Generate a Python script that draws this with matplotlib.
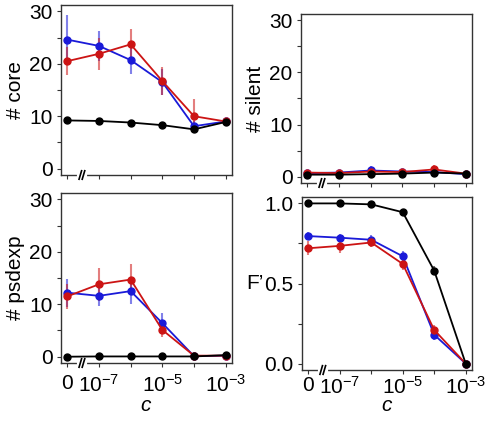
import matplotlib
matplotlib.use("Agg")
import matplotlib.pyplot as plt
import numpy as np

plt.rcParams['font.family'] = ['Liberation Sans', 'DejaVu Sans']
plt.rcParams['mathtext.fontset'] = 'custom'
plt.rcParams['mathtext.rm'] = 'Liberation Sans'
plt.rcParams['mathtext.it'] = 'Liberation Sans:italic'

# x positions: 0, 1e-7, 1e-6, 1e-5, 1e-4, 1e-3 (evenly spaced)
x = [0, 1, 2, 3, 4, 5]
xtick_labels = ["0", "$10^{-7}$", "", "$10^{-5}$", "", "$10^{-3}$"]

core_blue = [24.6, 23.4, 20.7, 16.5, 8.1, 9.0]
core_blue_err = [4.6, 2.8, 2.6, 2.5, 1.0, 0.3]
core_red = [20.5, 21.9, 23.7, 16.7, 10.0, 9.0]
core_red_err = [2.6, 3.0, 3.0, 2.7, 3.2, 0.3]
core_black = [9.2, 9.1, 8.8, 8.3, 7.5, 8.9]
core_black_err = [0.3, 0.3, 0.3, 0.3, 0.4, 0.3]

silent_blue = [0.7, 0.8, 1.2, 1.0, 0.9, 0.5]
silent_blue_err = [0.4, 0.5, 0.9, 0.5, 0.5, 0.3]
silent_red = [0.8, 0.7, 1.0, 0.9, 1.4, 0.6]
silent_red_err = [0.4, 0.4, 0.6, 0.5, 0.8, 0.3]
silent_black = [0.4, 0.4, 0.5, 0.6, 0.8, 0.6]
silent_black_err = [0.2, 0.2, 0.2, 0.2, 0.3, 0.2]

psd_blue = [12.2, 11.6, 12.5, 6.4, 0.1, 0.2]
psd_blue_err = [2.7, 1.9, 2.4, 1.9, 0.2, 0.2]
psd_red = [11.5, 13.8, 14.7, 5.1, 0.2, 0.2]
psd_red_err = [2.4, 3.2, 3.0, 1.3, 0.2, 0.2]
psd_black = [0.0, 0.05, 0.05, 0.05, 0.05, 0.3]
psd_black_err = [0.1, 0.1, 0.1, 0.1, 0.1, 0.1]

f_blue = [0.796, 0.786, 0.773, 0.67, 0.18, 0.0]
f_blue_err = [0.025, 0.025, 0.03, 0.03, 0.035, 0.005]
f_red = [0.72, 0.735, 0.756, 0.622, 0.21, 0.0]
f_red_err = [0.045, 0.045, 0.03, 0.035, 0.03, 0.005]
f_black = [1.0, 1.0, 0.994, 0.945, 0.58, 0.0]
f_black_err = [0.005, 0.005, 0.006, 0.01, 0.03, 0.005]

BLUE = "#1a1ad8"
RED = "#cc1414"
FS = 15

W, H = 488, 422
fig = plt.figure(figsize=(W / 100, H / 100), dpi=100)


def box(l, t, r, b):
    return [l / W, 1 - b / H, (r - l) / W, (b - t) / H]


def panel(rect, series, ylim, yticks, yticklabels, show_x, xpad=4):
    ax = fig.add_axes(box(*rect))
    for y, e, c in series:
        ax.errorbar(x, y, yerr=e, fmt="none", ecolor=c, elinewidth=1.5, alpha=0.55, capsize=0, zorder=2)
        ax.plot(x, y, "-o", color=c, lw=1.3, ms=5, zorder=3)
    ax.set_xlim(-0.2, 5.2)
    ax.set_ylim(*ylim)
    ax.set_yticks(yticks)
    ax.set_yticklabels(yticklabels)
    ax.set_xticks(x)
    ax.tick_params(labelsize=FS, length=3, width=0.8, pad=3, color="#333333")
    ax.tick_params(axis="x", pad=xpad)
    if show_x:
        ax.set_xticklabels(xtick_labels)
        ax.set_xlabel("$\\mathit{c}$", fontsize=FS)
        ax.xaxis.label.set_va("top")
        # "c" sits just under the tick labels
        ax.xaxis.set_label_coords(0.5, -(396 - rect[3]) / (rect[3] - rect[1]))
    else:
        ax.set_xticklabels([])
    for s in ax.spines.values():
        s.set_linewidth(1.0)
        s.set_color("#333333")
    # axis break mark
    trans = ax.get_xaxis_transform()
    ax.plot([0.36, 0.56], [0, 0], color="white", lw=3, transform=trans, clip_on=False, zorder=5)
    for dx in (0.37, 0.47):
        ax.plot([dx, dx + 0.08], [-0.025, 0.025], color="black", lw=1.2, transform=trans, clip_on=False, zorder=6)
    return ax


cnt_ticks = [0, 5, 10, 15, 20, 25, 30]
cnt_labels = ["0", "", "10", "", "20", "", "30"]

ax1 = panel((61, 5, 232, 175),
            [(core_blue, core_blue_err, BLUE), (core_red, core_red_err, RED), (core_black, core_black_err, "black")],
            (-1.2, 31.2), cnt_ticks, cnt_labels, False)
ax1.set_ylabel("# core", fontsize=FS, labelpad=3)

ax2 = panel((301, 14, 472, 183),
            [(silent_blue, silent_blue_err, BLUE), (silent_red, silent_red_err, RED), (silent_black, silent_black_err, "black")],
            (-1.2, 31.2), cnt_ticks, cnt_labels, False)
ax2.set_ylabel("# silent", fontsize=FS, labelpad=3)

ax3 = panel((61, 193, 232, 363),
            [(psd_blue, psd_blue_err, BLUE), (psd_red, psd_red_err, RED), (psd_black, psd_black_err, "black")],
            (-1.2, 31.2), cnt_ticks, cnt_labels, True, xpad=5)
ax3.set_ylabel("# psdexp", fontsize=FS, labelpad=3)

ax4 = panel((302, 197, 472, 370),
            [(f_blue, f_blue_err, BLUE), (f_red, f_red_err, RED), (f_black, f_black_err, "black")],
            (-0.04, 1.04), [0, 0.25, 0.5, 0.75, 1.0], ["0.0", "", "0.5", "", "1.0"], True, xpad=1)
ax4.set_ylabel("F\u2019", fontsize=FS, rotation=0, ha="right", va="center")
ax4.yaxis.set_label_coords(-0.225, 0.5)

fig.savefig("out.png", dpi=100)
